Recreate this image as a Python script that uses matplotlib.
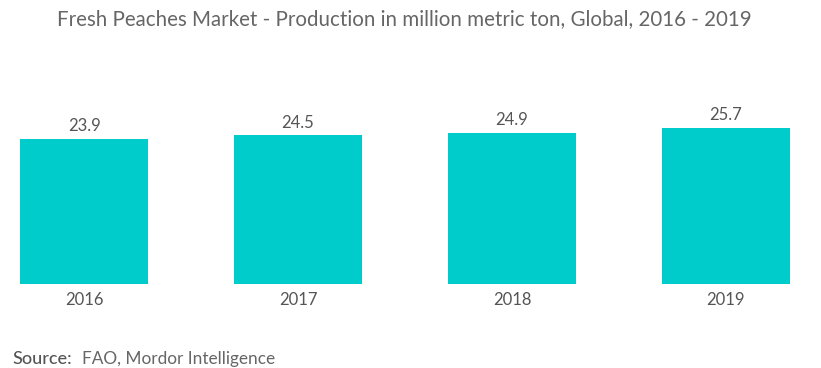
import matplotlib
matplotlib.use("Agg")
import matplotlib.pyplot as plt

years = ["2016", "2017", "2018", "2019"]
values = [23.9, 24.5, 24.9, 25.7]

W, H = 821, 368
fig = plt.figure(figsize=(W / 100, H / 100), dpi=100)
plt.rcParams['font.family'] = ['Lato', 'DejaVu Sans']

# axes: full width, bottom at pixel 284
px_per_unit_x = 214.0
xl = -0.3 - 20 / px_per_unit_x
xr = 3.3 + 31 / px_per_unit_x
bottom_px = 284
ytop = 30.0
px_per_unit_y = 145 / 23.9
top_px = bottom_px - ytop * px_per_unit_y
ax = fig.add_axes([0, (H - bottom_px) / H, 1, (bottom_px - top_px) / H])
ax.set_xlim(xl, xr)
ax.set_ylim(0, ytop)

x = list(range(len(years)))
ax.bar(x, values, width=0.6, color="#00CCCC")
for xi, v in zip(x, values):
    ax.text(xi, v + 0.8, f"{v}", ha="center", va="bottom", fontsize=12, color="#555555")

ax.set_xticks(x)
ax.set_xticklabels(years, fontsize=12, color="#555555")
ax.tick_params(axis="x", length=0, pad=6)
ax.set_yticks([])
for s in ax.spines.values():
    s.set_visible(False)

fig.text(57 / W, 1 - 19 / H, "Fresh Peaches Market - Production in million metric ton, Global, 2016 - 2019",
         fontsize=14.8, color="#666666", ha="left", va="center")
fig.text(12 / W, 1 - 359 / H, "Source:", fontsize=13, color="#555555", ha="left", va="center",
         fontweight="medium")
fig.text(82 / W, 1 - 359 / H, "FAO, Mordor Intelligence", fontsize=12.4, color="#666666", ha="left", va="center")

fig.savefig("out.png", dpi=100)
